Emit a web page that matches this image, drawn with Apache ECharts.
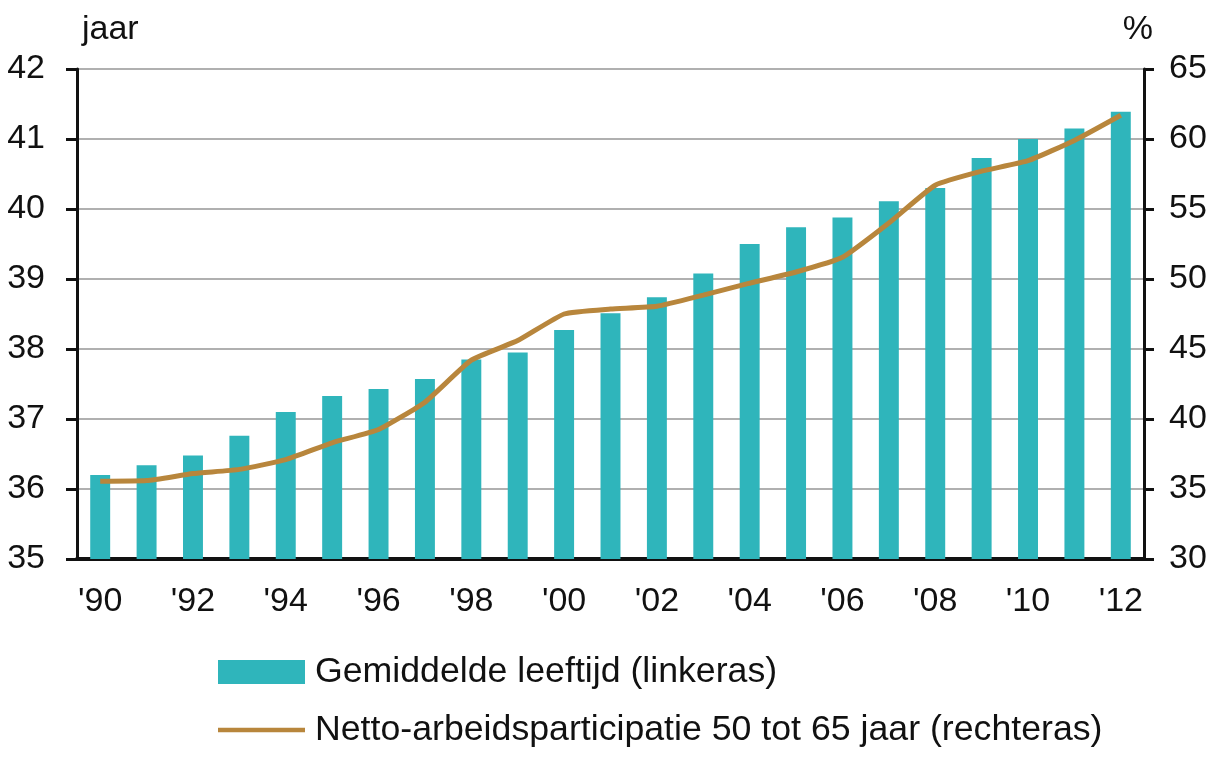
<!DOCTYPE html>
<html>
<head>
<meta charset="utf-8">
<script src="https://cdn.jsdelivr.net/npm/echarts@6/dist/echarts.min.js"></script>
<style>html,body{margin:0;padding:0;background:#fff;}#c{width:1221px;height:758px;}</style>
</head>
<body>
<div id="c"></div>
<script>
var years = ['1990','1991','1992','1993','1994','1995','1996','1997','1998','1999','2000','2001','2002','2003','2004','2005','2006','2007','2008','2009','2010','2011','2012'];
var ageValues = [36.2,36.34,36.48,36.76,37.1,37.33,37.43,37.57,37.85,37.95,38.27,38.51,38.74,39.08,39.5,39.74,39.88,40.11,40.3,40.73,41.0,41.15,41.39];
var participationValues = [35.55,35.6,36.1,36.4,37.1,38.3,39.25,41.2,44.2,45.6,47.5,47.85,48.05,48.85,49.7,50.5,51.55,54.0,56.7,57.7,58.45,59.9,61.7];
var leftTicks = [35,42,1];
var rightTicks = [30,65,5];
var seriesNames = ['Gemiddelde leeftijd (linkeras)','Netto-arbeidsparticipatie 50 tot 65 jaar (rechteras)'];

var font = '"Liberation Sans", Arial, sans-serif';
var lineIcon = 'path://M0,0h0.01v0.01h-0.01z M99.99,23.99h0.01v0.01h-0.01z M0,9.5h100v5h-100z';
var chart = echarts.init(document.getElementById('c'), null, {renderer:'canvas'});
chart.setOption({
  animation:false,
  backgroundColor:'#fff',
  grid:{left:77,right:77,top:69,bottom:199},
  legend:{
    orient:'vertical', left:213, top:649, itemGap:22,
    itemWidth:87, itemHeight:24,
    textStyle:{fontFamily:font,fontSize:35.7,color:'#111',padding:[0,0,0,5]},
    data:[{name:seriesNames[0],icon:'rect'},{name:seriesNames[1],icon:lineIcon,itemStyle:{color:'#b8863c'}}]
  },
  xAxis:{
    type:'category', data:years,
    axisLine:{lineStyle:{color:'#111',width:4}},
    axisTick:{show:false},
    axisLabel:{interval:1,margin:26,fontFamily:font,fontSize:34,color:'#111',
      formatter:function(v){return "'"+v.slice(2);}}
  },
  yAxis:[{
    type:'value', min:leftTicks[0], max:leftTicks[1], interval:leftTicks[2],
    name:'jaar', nameLocation:'end', nameGap:22,
    nameTextStyle:{fontFamily:font,fontSize:34,color:'#111',align:'left',padding:[0,0,0,5]},
    axisLine:{show:true,lineStyle:{color:'#111',width:3}},
    axisTick:{show:true,length:11,lineStyle:{color:'#111',width:3}},
    axisLabel:{margin:32,fontFamily:font,fontSize:34,color:'#111'},
    splitLine:{lineStyle:{color:'#b0b0b0',width:2}}
  },{
    type:'value', min:rightTicks[0], max:rightTicks[1], interval:rightTicks[2],
    name:'%', nameLocation:'end', nameGap:22,
    nameTextStyle:{fontFamily:font,fontSize:34,color:'#111',align:'right',padding:[0,-9,0,0]},
    axisLine:{show:true,lineStyle:{color:'#111',width:3}},
    axisTick:{show:true,length:10,lineStyle:{color:'#111',width:3}},
    axisLabel:{margin:25,fontFamily:font,fontSize:34,color:'#111'},
    splitLine:{show:false}
  }],
  series:[{
    name:seriesNames[0], type:'bar', yAxisIndex:0, data:ageValues,
    barWidth:'43%', itemStyle:{color:'#2fb5bb'}
  },{
    name:seriesNames[1], type:'line', yAxisIndex:1, data:participationValues,
    symbol:'none', smooth:0.15, lineStyle:{color:'#b8863c',width:5}, itemStyle:{color:'#b8863c'}
  }]
});
</script>
</body>
</html>
